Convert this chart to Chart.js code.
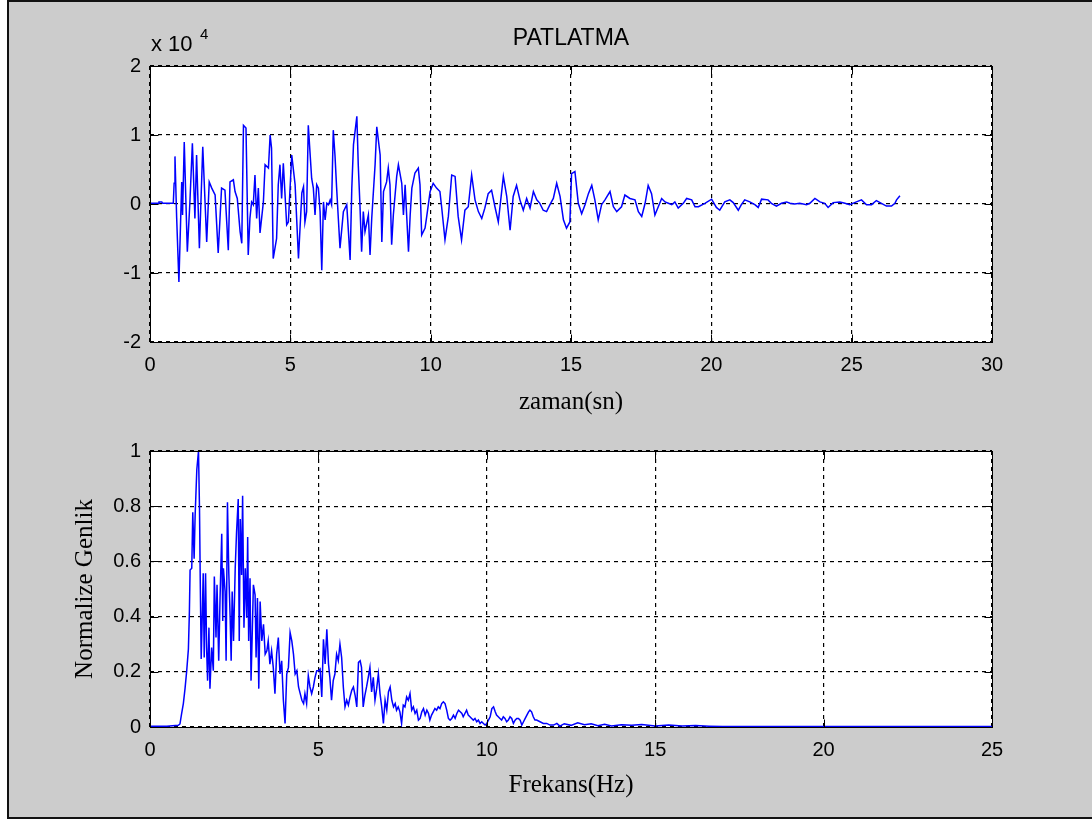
<!DOCTYPE html>
<html>
<head>
<meta charset="utf-8">
<title>PATLATMA</title>
<script src="https://cdn.jsdelivr.net/npm/chart.js@4.4.1/dist/chart.umd.min.js"></script>
<style>
  html, body { margin: 0; padding: 0; background: #ffffff; overflow: hidden; }
  #fig {
    position: absolute; left: 7px; top: 0; width: 1100px; height: 815px;
    background: #cccccc;
    border-left: 2px solid #111; border-top: 2px solid #111; border-bottom: 2px solid #111;
  }
  .panel { position: absolute; left: 0; }
  canvas { display: block; }
</style>
</head>
<body>
<div id="fig"></div>
<div class="panel" style="top:0"><canvas id="timePlot" width="1092" height="430"></canvas></div>
<div class="panel" style="top:430px"><canvas id="specPlot" width="1092" height="391"></canvas></div>
<script>
// ---- time record (seconds) and amplitude in units of 10^4 ----
const timeSec = [
  0, 0.30, 0.32, 0.42, 0.45, 0.83, 0.86, 0.89, 0.95, 1.03, 1.13, 1.16, 1.22, 1.33, 1.42, 1.51, 1.60, 1.66, 1.76, 1.88,
  2.02, 2.11, 2.20, 2.32, 2.43, 2.55, 2.67, 2.79, 2.85, 2.97, 3.03, 3.11, 3.21, 3.27, 3.33, 3.42, 3.50, 3.56, 3.62, 3.68,
  3.74, 3.80, 3.86, 3.92, 4.04, 4.10, 4.22, 4.28, 4.33, 4.39, 4.51, 4.57, 4.63, 4.69, 4.75, 4.87, 4.93, 5.05, 5.17, 5.29,
  5.41, 5.47, 5.52, 5.58, 5.64, 5.76, 5.82, 5.88, 5.94, 6.00, 6.06, 6.12, 6.18, 6.24, 6.30, 6.36, 6.42, 6.47, 6.53, 6.59,
  6.65, 6.71, 6.77, 6.89, 7.01, 7.07, 7.13, 7.19, 7.25, 7.37, 7.42, 7.48, 7.54, 7.60, 7.66, 7.78, 7.84, 7.90, 8.02, 8.08,
  8.20, 8.26, 8.32, 8.43, 8.49, 8.55, 8.61, 8.67, 8.79, 8.85, 8.97, 9.03, 9.09, 9.21, 9.27, 9.33, 9.44, 9.56, 9.62, 9.68,
  9.80, 9.86, 9.98, 10.09, 10.21, 10.33, 10.39, 10.51, 10.63, 10.75, 10.87, 10.98, 11.10, 11.22, 11.34, 11.46, 11.58, 11.70, 11.76, 11.82,
  11.93, 12.05, 12.17, 12.29, 12.41, 12.59, 12.71, 12.83, 12.94, 13.06, 13.18, 13.30, 13.42, 13.54, 13.66, 13.78, 13.89, 14.01, 14.13, 14.25,
  14.37, 14.49, 14.61, 14.73, 14.84, 14.96, 15.02, 15.14, 15.26, 15.38, 15.50, 15.62, 15.74, 15.85, 15.97, 16.09, 16.21, 16.39, 16.51, 16.63,
  16.80, 16.92, 17.10, 17.28, 17.40, 17.52, 17.64, 17.75, 17.87, 17.99, 18.11, 18.23, 18.35, 18.47, 18.59, 18.70, 18.82, 19.00, 19.12, 19.30,
  19.42, 19.54, 19.77, 20.01, 20.18, 20.30, 20.48, 20.66, 20.78, 20.96, 21.07, 21.19, 21.37, 21.55, 21.67, 21.79, 22.02, 22.14, 22.32, 22.50,
  22.68, 22.80, 22.97, 23.15, 23.39, 23.51, 23.69, 23.87, 24.04, 24.16, 24.34, 24.58, 24.76, 24.93, 25.17, 25.35, 25.53, 25.71, 25.88, 26.06,
  26.24, 26.42, 26.54, 26.60, 26.72
];
const amplitude = [
  0.01, 0.01, 0.03, 0.03, 0.01, 0.01, 0.30, 0.69, -0.20, -1.13, 0.32, -0.16, 0.90, -0.69, 0.01, 0.88, -0.21, 0.71, -0.64, 0.83,
  -0.55, 0.32, 0.23, 0.13, -0.71, 0.23, 0.20, -0.67, 0.32, 0.35, 0.18, 0.08, -0.40, -0.57, 1.14, 1.10, -0.74, -0.21, 0.03, -0.01,
  0.42, -0.21, 0.23, -0.42, 0.03, 0.57, 0.52, 1.00, 0.81, -0.79, -0.50, 0.28, 0.57, 0.08, 0.59, -0.30, -0.26, 0.71, 0.28, -0.79,
  0.16, 0.25, -0.26, -0.11, 1.14, 0.37, 0.23, -0.16, 0.28, 0.23, -0.11, -0.96, 0.03, -0.23, 0.01, -0.01, 0.06, -0.01, 1.07, 0.71,
  0.23, -0.21, -0.64, -0.11, -0.01, -0.40, -0.81, 0.23, 0.86, 1.27, 0.57, -0.01, -0.69, -0.11, -0.40, -0.16, -0.74, -0.21, 0.57, 1.12,
  0.71, -0.55, 0.18, 0.32, 0.52, 0.28, -0.59, -0.16, 0.40, 0.57, 0.30, -0.16, 0.28, -0.69, -0.16, 0.23, 0.45, 0.52, 0.28, -0.45,
  -0.35, -0.18, 0.18, 0.30, 0.23, 0.18, -0.04, -0.52, -0.18, 0.42, 0.40, -0.18, -0.52, -0.09, -0.04, 0.42, 0.06, -0.11, -0.16, -0.21,
  -0.06, 0.15, 0.20, -0.04, -0.26, 0.40, 0.11, -0.38, 0.11, 0.27, 0.06, -0.09, 0.08, -0.06, 0.18, 0.06, 0.01, -0.09, -0.11, -0.01,
  0.08, 0.30, 0.11, -0.23, -0.35, -0.26, 0.44, 0.47, 0.01, -0.14, -0.01, 0.15, 0.27, 0.06, -0.23, -0.01, 0.06, 0.18, -0.04, -0.11,
  -0.04, 0.13, 0.08, 0.06, -0.11, -0.18, 0.01, 0.27, 0.15, -0.16, -0.04, 0.08, 0.03, 0.01, -0.01, 0.03, -0.06, 0.01, 0.08, 0.06,
  -0.04, -0.04, 0.01, 0.07, -0.05, -0.09, 0.03, 0.06, 0.02, -0.09, -0.01, 0.06, 0.03, -0.01, -0.05, 0.07, 0.06, 0.01, -0.03, 0.01,
  0.03, 0.01, 0.00, 0.01, -0.01, 0.01, 0.08, 0.03, 0.01, -0.05, 0.02, 0.03, 0.01, -0.01, 0.03, 0.06, -0.01, -0.01, 0.05, 0.01,
  -0.03, -0.03, 0.01, 0.06, 0.12
];

// ---- amplitude spectrum: frequency (Hz) and normalised amplitude ----
const freqHz = [
  0, 0.50, 0.84, 0.89, 0.94, 0.99, 1.04, 1.09, 1.14, 1.17, 1.19, 1.24, 1.27, 1.31, 1.34, 1.39, 1.44, 1.47, 1.49, 1.52,
  1.56, 1.58, 1.61, 1.65, 1.68, 1.71, 1.75, 1.78, 1.83, 1.88, 1.91, 1.96, 1.99, 2.04, 2.08, 2.13, 2.16, 2.18, 2.23, 2.26,
  2.30, 2.34, 2.38, 2.41, 2.44, 2.48, 2.53, 2.57, 2.62, 2.65, 2.68, 2.72, 2.75, 2.79, 2.83, 2.87, 2.90, 2.93, 2.97, 3.00,
  3.04, 3.07, 3.12, 3.15, 3.19, 3.23, 3.27, 3.32, 3.37, 3.42, 3.47, 3.51, 3.56, 3.61, 3.66, 3.71, 3.76, 3.81, 3.86, 3.91,
  3.96, 4.01, 4.06, 4.11, 4.16, 4.21, 4.26, 4.31, 4.36, 4.41, 4.46, 4.51, 4.56, 4.60, 4.65, 4.70, 4.75, 4.80, 4.85, 4.90,
  4.95, 5.00, 5.05, 5.10, 5.15, 5.20, 5.25, 5.30, 5.34, 5.39, 5.44, 5.49, 5.54, 5.59, 5.64, 5.69, 5.74, 5.79, 5.84, 5.89,
  5.94, 5.99, 6.04, 6.09, 6.14, 6.19, 6.24, 6.28, 6.33, 6.38, 6.43, 6.48, 6.53, 6.58, 6.63, 6.68, 6.73, 6.78, 6.83, 6.88,
  6.93, 6.98, 7.03, 7.08, 7.13, 7.18, 7.23, 7.28, 7.32, 7.37, 7.42, 7.47, 7.52, 7.57, 7.62, 7.67, 7.72, 7.77, 7.82, 7.87,
  7.92, 7.97, 8.02, 8.07, 8.12, 8.17, 8.22, 8.27, 8.31, 8.36, 8.41, 8.46, 8.51, 8.56, 8.61, 8.66, 8.71, 8.76, 8.81, 8.86,
  8.91, 8.96, 9.01, 9.06, 9.11, 9.16, 9.21, 9.26, 9.30, 9.35, 9.40, 9.45, 9.50, 9.55, 9.60, 9.65, 9.70, 9.75, 9.80, 9.85,
  9.90, 9.95, 10.00, 10.05, 10.10, 10.15, 10.20, 10.25, 10.29, 10.34, 10.39, 10.44, 10.49, 10.54, 10.59, 10.64, 10.69, 10.74, 10.79, 10.84,
  10.89, 10.94, 10.99, 11.04, 11.09, 11.14, 11.19, 11.24, 11.28, 11.33, 11.38, 11.43, 11.48, 11.58, 11.68, 11.78, 11.88, 11.98, 12.08, 12.17,
  12.30, 12.50, 12.70, 12.90, 13.10, 13.30, 13.50, 13.70, 14.00, 14.30, 14.60, 15.00, 15.40, 15.80, 16.20, 16.60, 17.00, 25.00
];
const normAmp = [
  0.003, 0.003, 0.006, 0.011, 0.049, 0.085, 0.139, 0.204, 0.282, 0.419, 0.569, 0.575, 0.778, 0.610, 0.766, 0.933, 1.000, 0.790, 0.551, 0.246,
  0.443, 0.557, 0.252, 0.557, 0.288, 0.168, 0.360, 0.139, 0.288, 0.204, 0.545, 0.324, 0.515, 0.240, 0.467, 0.700, 0.384, 0.575, 0.491, 0.240,
  0.814, 0.557, 0.396, 0.240, 0.491, 0.312, 0.575, 0.706, 0.826, 0.312, 0.754, 0.551, 0.838, 0.360, 0.575, 0.396, 0.688, 0.312, 0.539, 0.168,
  0.360, 0.515, 0.479, 0.252, 0.467, 0.139, 0.455, 0.312, 0.372, 0.264, 0.276, 0.312, 0.228, 0.276, 0.216, 0.121, 0.264, 0.324, 0.192, 0.240,
  0.097, 0.013, 0.192, 0.216, 0.342, 0.312, 0.264, 0.192, 0.204, 0.145, 0.121, 0.097, 0.085, 0.121, 0.085, 0.186, 0.145, 0.121, 0.145, 0.180,
  0.204, 0.204, 0.210, 0.109, 0.318, 0.228, 0.354, 0.228, 0.180, 0.097, 0.168, 0.192, 0.264, 0.240, 0.300, 0.252, 0.145, 0.073, 0.097, 0.079,
  0.109, 0.133, 0.145, 0.115, 0.073, 0.234, 0.240, 0.216, 0.073, 0.115, 0.145, 0.180, 0.216, 0.127, 0.180, 0.097, 0.139, 0.192, 0.121, 0.073,
  0.013, 0.097, 0.061, 0.127, 0.145, 0.097, 0.073, 0.085, 0.061, 0.073, 0.055, 0.013, 0.079, 0.073, 0.109, 0.097, 0.121, 0.061, 0.073, 0.049,
  0.061, 0.025, 0.031, 0.055, 0.067, 0.043, 0.061, 0.049, 0.025, 0.043, 0.055, 0.067, 0.061, 0.073, 0.067, 0.085, 0.091, 0.085, 0.061, 0.031,
  0.025, 0.031, 0.043, 0.031, 0.049, 0.061, 0.055, 0.049, 0.037, 0.049, 0.061, 0.043, 0.037, 0.031, 0.025, 0.031, 0.019, 0.025, 0.013, 0.019,
  0.013, 0.007, 0.013, 0.025, 0.037, 0.067, 0.073, 0.055, 0.043, 0.037, 0.031, 0.025, 0.037, 0.031, 0.019, 0.025, 0.037, 0.031, 0.013, 0.025,
  0.031, 0.031, 0.025, 0.007, 0.019, 0.031, 0.043, 0.055, 0.061, 0.055, 0.037, 0.025, 0.025, 0.019, 0.013, 0.013, 0.007, 0.007, 0.013, 0.003,
  0.012, 0.006, 0.015, 0.008, 0.012, 0.005, 0.010, 0.004, 0.008, 0.006, 0.009, 0.004, 0.007, 0.004, 0.005, 0.003, 0.002, 0.002
];

// ---- tick values ----
const timeTicks = [0, 5, 10, 15, 20, 25, 30];
const ampTicks = [-2, -1, 0, 1, 2];
const freqTicks = [0, 5, 10, 15, 20, 25];
const normTicks = [0, 0.2, 0.4, 0.6, 0.8, 1];

const SANS = '"Liberation Sans", Arial, Helvetica, sans-serif';
const SERIF = '"Liberation Serif", "Times New Roman", serif';
const TICK_FONT = { family: SANS, size: 20 };

// white axes background, box outline, inward tick marks and free text
const matlabAxes = {
  id: 'matlabAxes',
  beforeDraw(chart) {
    const { ctx, chartArea: a } = chart;
    ctx.save();
    ctx.fillStyle = '#ffffff';
    ctx.fillRect(a.left, a.top, a.right - a.left, a.bottom - a.top);
    ctx.restore();
  },
  afterDraw(chart, args, opts) {
    const { ctx, chartArea: a, scales: { x, y } } = chart;
    const L = Math.round(a.left) + 0.5, R = Math.round(a.right) + 0.5;
    const T = Math.round(a.top) + 0.5, B = Math.round(a.bottom) + 0.5;
    const len = 8;
    ctx.save();
    ctx.strokeStyle = '#000';
    ctx.lineWidth = 1;
    ctx.setLineDash([]);
    ctx.beginPath();
    x.ticks.forEach(t => {
      const px = Math.round(x.getPixelForValue(t.value)) + 0.5;
      ctx.moveTo(px, B); ctx.lineTo(px, B - len);
      ctx.moveTo(px, T); ctx.lineTo(px, T + len);
    });
    y.ticks.forEach(t => {
      const py = Math.round(y.getPixelForValue(t.value)) + 0.5;
      ctx.moveTo(L, py); ctx.lineTo(L + len, py);
      ctx.moveTo(R, py); ctx.lineTo(R - len, py);
    });
    ctx.stroke();
    ctx.strokeRect(L, T, R - L, B - T);

    ctx.fillStyle = '#000';
    (opts.texts || []).forEach(tx => {
      ctx.font = tx.font;
      ctx.textAlign = tx.align || 'left';
      ctx.textBaseline = 'alphabetic';
      ctx.fillText(tx.text, tx.x, tx.y);
    });
    ctx.restore();
  }
};

function fixedSize(w, h) {
  return function (scale) {
    if (w !== undefined) scale.width = w;
    if (h !== undefined) scale.height = h;
  };
}

function tickList(values) {
  return function (scale) {
    scale.ticks = values.map(v => ({ value: v }));
  };
}

// plain numbers: 0, 0.2, 1 (no padded decimals)
function plainLabel(value) {
  return String(parseFloat(Number(value).toFixed(3)));
}

function makeChart(id, xs, ys, cfg) {
  return new Chart(document.getElementById(id), {
    type: 'line',
    data: {
      datasets: [{
        data: xs.map((v, i) => ({ x: v, y: ys[i] })),
        borderColor: '#0000ff',
        borderWidth: 1.5,
        pointRadius: 0,
        tension: 0,
        fill: false
      }]
    },
    options: {
      responsive: false,
      animation: false,
      events: [],
      layout: { padding: cfg.padding },
      plugins: {
        legend: { display: false },
        tooltip: { enabled: false },
        title: { display: false },
        matlabAxes: { texts: cfg.texts }
      },
      scales: {
        x: {
          type: 'linear',
          min: cfg.xTicks[0],
          max: cfg.xTicks[cfg.xTicks.length - 1],
          afterBuildTicks: tickList(cfg.xTicks),
          afterFit: fixedSize(undefined, cfg.xHeight),
          grid: { color: '#000', lineWidth: 1.2, drawTicks: false },
          border: { display: false, dash: [4, 4] },
          ticks: { color: '#000', font: TICK_FONT, padding: 11, maxRotation: 0, autoSkip: false, callback: plainLabel },
          title: cfg.xTitle
        },
        y: {
          type: 'linear',
          min: cfg.yTicks[0],
          max: cfg.yTicks[cfg.yTicks.length - 1],
          afterBuildTicks: tickList(cfg.yTicks),
          afterFit: fixedSize(150, undefined),
          grid: { color: '#000', lineWidth: 1.2, drawTicks: false },
          border: { display: false, dash: [4, 4] },
          ticks: { color: '#000', font: TICK_FONT, padding: 9, autoSkip: false, callback: plainLabel },
          title: cfg.yTitle || { display: false }
        }
      }
    },
    plugins: [matlabAxes]
  });
}

// upper panel: time history
makeChart('timePlot', timeSec, amplitude, {
  padding: { top: 66, right: 100, bottom: 0, left: 0 },
  xHeight: 88,
  xTicks: timeTicks,
  yTicks: ampTicks,
  xTitle: { display: true, text: 'zaman(sn)', color: '#000',
            font: { family: SERIF, size: 25 }, padding: { top: 0, bottom: 13 } },
  texts: [
    { text: 'PATLATMA', x: 571, y: 45, align: 'center', font: '23px ' + SANS },
    { text: 'x 10', x: 151, y: 51, align: 'left', font: '22px ' + SANS },
    { text: '4', x: 200, y: 39, align: 'left', font: '15px ' + SANS }
  ]
});

// lower panel: normalised amplitude spectrum
makeChart('specPlot', freqHz, normAmp, {
  padding: { top: 18, right: 100, bottom: 0, left: 0 },
  xHeight: 94,
  xTicks: freqTicks,
  yTicks: normTicks,
  xTitle: { display: true, text: 'Frekans(Hz)', color: '#000',
            font: { family: SERIF, size: 25 }, padding: { top: 0, bottom: 21 } },
  yTitle: { display: true, text: 'Normalize Genlik', color: '#000',
            font: { family: SERIF, size: 25 }, padding: { top: 70, bottom: 0 } },
  texts: []
});
</script>
</body>
</html>
